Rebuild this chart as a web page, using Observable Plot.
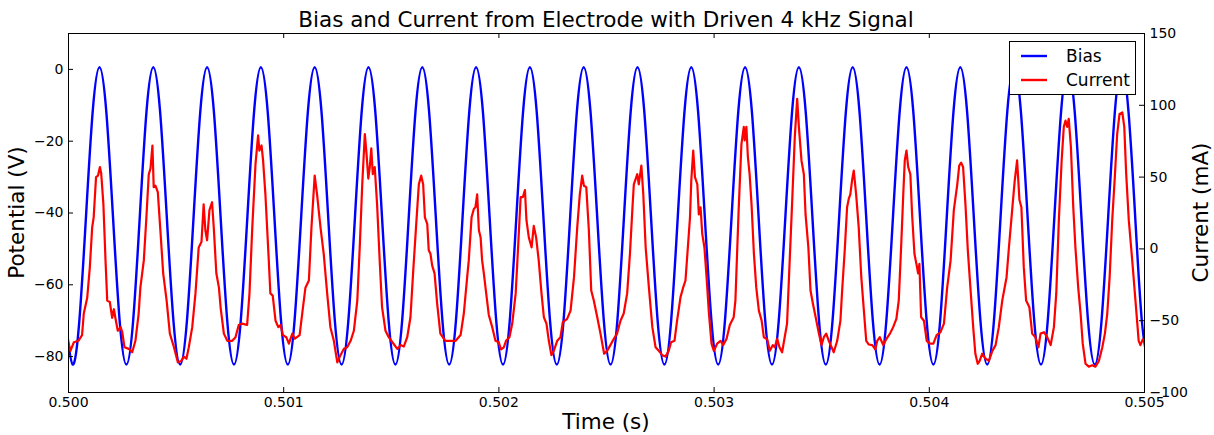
<!DOCTYPE html>
<html><head><meta charset="utf-8">
<script src="https://cdn.jsdelivr.net/npm/d3@7"></script>
<script src="https://cdn.jsdelivr.net/npm/@observablehq/plot@0.6"></script>
<style>
html,body{margin:0;padding:0;background:#fff;}
#chart{width:1214px;height:435px;}
</style>
</head><body><div id="chart"></div>
<script>
// ---------- data ----------
const chartTitle = "Bias and Current from Electrode with Driven 4 kHz Signal";
const xLabel = "Time (s)";
const yLeftLabel = "Potential (V)";
const yRightLabel = "Current (mA)";
const seriesNames = ["Bias", "Current"];

const timeOrigin = 0.5;           // s
const timeDomain = [0.500, 0.505]; // s
const potentialDomain = [-90, 10]; // V
const currentDomain = [-100, 150]; // mA

const xTicks = [0.500, 0.501, 0.502, 0.503, 0.504, 0.505];
const leftTicks = [-80, -60, -40, -20, 0];
const rightTicks = [-100, -50, 0, 50, 100, 150];

// Bias (V), sampled every 31.25 µs starting at -12.25 µs after 0.5 s
const biasStartUs = -12.25;
const biasStepUs = 31.25;
const biasV = [
  -70.1,-82.2,-70.1,-40.8,-11.5,0.6,-11.5,-40.8,
  -70.1,-82.2,-70.1,-40.8,-11.5,0.6,-11.5,-40.8,
  -70.1,-82.2,-70.1,-40.8,-11.5,0.6,-11.5,-40.8,
  -70.1,-82.2,-70.1,-40.8,-11.5,0.6,-11.5,-40.8,
  -70.1,-82.2,-70.1,-40.8,-11.5,0.6,-11.5,-40.8,
  -70.1,-82.2,-70.1,-40.8,-11.5,0.6,-11.5,-40.8,
  -70.1,-82.2,-70.1,-40.8,-11.5,0.6,-11.5,-40.8,
  -70.1,-82.2,-70.1,-40.8,-11.5,0.6,-11.5,-40.8,
  -70.1,-82.2,-70.1,-40.8,-11.5,0.6,-11.5,-40.8,
  -70.1,-82.2,-70.1,-40.8,-11.5,0.6,-11.5,-40.8,
  -70.1,-82.2,-70.1,-40.8,-11.5,0.6,-11.5,-40.8,
  -70.1,-82.2,-70.1,-40.8,-11.5,0.6,-11.5,-40.8,
  -70.1,-82.2,-70.1,-40.8,-11.5,0.6,-11.5,-40.8,
  -70.1,-82.2,-70.1,-40.8,-11.5,0.6,-11.5,-40.8,
  -70.1,-82.2,-70.1,-40.8,-11.5,0.6,-11.5,-40.8,
  -70.1,-82.2,-70.1,-40.8,-11.5,0.6,-11.5,-40.8,
  -70.1,-82.2,-70.1,-40.8,-11.5,0.6,-11.5,-40.8,
  -70.1,-82.2,-70.1,-40.8,-11.5,0.6,-11.5,-40.8,
  -70.1,-82.2,-70.1,-40.8,-11.5,0.6,-11.5,-40.8,
  -70.1,-82.2,-70.1,-40.8,-11.5,0.6,-11.5,-40.8,
  -70.1,-82.2
];

// Current: [µs after 0.5 s, mA]
const currentSamples = [
  [1,-66],[9,-71],[25,-65],[46,-64],[63,-60],[71,-45],[87,-34],[99,-13],[110,15],[117,22],
  [128,50],[137,51],[146,57],[152,52.5],[162,31.5],[172,-8],[180,-36],[192,-37],[203,-48],[211,-42],
  [219,-49],[229,-57],[242,-54.5],[250,-58],[260,-68.5],[280,-69.6],[296,-72],[311,-64],[326,-45],[334,-27],
  [350,-8],[362,22],[373,52],[381,56],[390,72],[396,43],[404,44],[415,39.5],[428,10.5],[440,-17],
  [456,-36],[471,-59],[490,-68.5],[508,-79],[524,-78],[536,-75],[548,-76.5],[559,-68.5],[575,-54.5],[590,-31],
  [605,1],[618,5],[628,31],[636,13],[644,6],[655,27],[667,32.5],[675,15],[687,-17],[699,-27],
  [707,-41],[722,-59],[738,-64],[761,-64],[776,-61.5],[791,-53],[807,-52],[830,-53],[841,-31],[854,15],
  [869,59],[881,79],[887,68.5],[897,72],[904,62],[915,38],[930,-6],[938,-31],[949,-32.5],[962,-50],
  [975,-54.5],[986,-53],[996,-60],[1012,-61.5],[1024,-66],[1040,-59],[1052,-62.5],[1074,-60],[1086,-45],[1101,-27],
  [1117,-22],[1129,15],[1144,51],[1155,38],[1171,15],[1186,-3.5],[1202,-31],[1217,-54.5],[1233,-64],[1249,-79],
  [1264,-74],[1280,-69.6],[1295,-68.5],[1311,-64],[1326,-57],[1342,-36],[1354,3.5],[1365,45],[1377,80],[1385,66],
  [1393,49],[1400,57],[1407,70],[1414,52],[1423,57],[1434,31],[1446,-8],[1457,-40.5],[1473,-57],[1488,-61.5],
  [1505,-65],[1528,-69.6],[1543,-67],[1558,-68],[1574,-61.5],[1589,-47.6],[1602,-15],[1617,20],[1628,45],[1639,51],
  [1648,45],[1656,22],[1667,17.5],[1674,-1],[1682,-3.4],[1690,-11.6],[1701,-17],[1713,-38],[1728,-59],[1751,-64],
  [1775,-64],[1799,-64],[1822,-60],[1837,-45],[1853,-19],[1860,-8],[1873,22],[1884,28],[1891,29],[1899,38],
  [1907,13],[1915,8],[1922,-8],[1930,-17],[1941,-31],[1953,-46],[1969,-54.5],[1984,-64],[1999,-65],[2010,-70],
  [2023,-68.5],[2033,-64],[2049,-61.5],[2062,-52],[2078,-31],[2090,3.5],[2101,36],[2111,36],[2121,41],[2128,20],
  [2139,8],[2152,1],[2162,16],[2173,8],[2185,-8],[2198,-31],[2209,-47.6],[2221,-52],[2232,-64],[2244,-74],
  [2255,-71],[2271,-64],[2286,-61.5],[2297,-51],[2317,-48.7],[2333,-43],[2349,-19.7],[2364,15],[2376,38],[2387,51],
  [2395,44],[2406,43],[2418,13],[2429,-29],[2441,-36],[2457,-47.6],[2472,-59],[2489,-73],[2503,-71],[2518,-67],
  [2534,-62.6],[2549,-59],[2565,-50],[2580,-45],[2596,-31],[2609,-3.4],[2620,27],[2627,45],[2643,52],[2650,45],
  [2662,58],[2671,38],[2682,1],[2697,-27],[2713,-54.5],[2728,-68.5],[2743,-71],[2759,-74],[2774,-75],[2789,-71],
  [2800,-65],[2816,-64],[2828,-50],[2844,-33.6],[2856,-27],[2867,-22],[2878,1],[2888,22],[2894,47.6],[2903,68.5],
  [2911,50],[2922,45],[2929,24],[2937,29],[2945,10.5],[2955,1],[2965,-19.7],[2976,-45],[2988,-66],[2999,-71],
  [3014,-66],[3030,-64],[3042,-67],[3058,-62.6],[3073,-53],[3091,-47.6],[3099,-36],[3114,27],[3127,73],[3138,85],
  [3142,75.5],[3150,85],[3157,64],[3165,52],[3174,31],[3185,-3.4],[3196,-27],[3208,-43],[3221,-50],[3231,-61.5],
  [3247,-63],[3259,-71],[3273,-67],[3282,-68.5],[3293,-62.6],[3304,-68.5],[3316,-72],[3328,-61.5],[3339,-52],[3350,-12.7],
  [3363,33.7],[3375,78],[3386,104.5],[3394,85],[3406,61.6],[3417,52],[3425,24],[3438,1],[3448,-29],[3459,-38],
  [3472,-47.6],[3487,-59],[3499,-67],[3510,-61.5],[3521,-59],[3533,-64],[3546,-68.5],[3556,-72],[3572,-64],[3587,-50],
  [3595,-29],[3607,-1],[3618,29],[3626,35],[3633,38],[3641,47.6],[3649,54.6],[3660,38],[3672,15],[3684,-19.7],
  [3696,-43],[3707,-64],[3719,-66.6],[3735,-67],[3749,-70],[3758,-64],[3770,-61.5],[3786,-67],[3801,-62.6],[3817,-59],
  [3832,-54.5],[3847,-48.7],[3858,-36],[3869,1],[3879,38],[3886,61.6],[3894,68.5],[3902,57],[3912,52],[3920,24],
  [3931,-3.4],[3940,-10.4],[3948,-17],[3954,-10.4],[3962,-47.6],[3975,-50],[3988,-64],[4003,-66],[4019,-66],[4034,-60],
  [4052,-58],[4068,-52],[4083,-27],[4099,-8],[4114,27],[4130,45],[4139,58],[4148,60],[4157,57],[4168,31],
  [4179,-1],[4191,-27],[4204,-54.5],[4214,-73],[4225,-80],[4234,-78],[4246,-73],[4262,-76.5],[4277,-78],[4293,-71],
  [4308,-67],[4323,-54.5],[4339,-36],[4359,-19.7],[4370,1],[4385,27],[4397,47.6],[4408,61.6],[4419,34],[4428,29],
  [4439,-12.7],[4450,-36],[4465,-40.6],[4478,-59],[4493,-61.5],[4507,-68.5],[4517,-59],[4533,-58],[4548,-61.5],[4564,-67],
  [4579,-54.5],[4590,-31],[4602,20],[4615,61.6],[4625,85],[4633,89.4],[4641,85],[4648,90.6],[4658,71],[4669,29],
  [4679,1],[4692,-27],[4703,-45],[4713,-66],[4726,-80],[4741,-82],[4757,-81],[4772,-82],[4788,-78],[4804,-68.5],
  [4816,-59],[4827,-45],[4838,-19.7],[4850,20],[4862,50],[4873,80],[4884,94],[4897,95],[4906,85],[4915,52],
  [4927,20],[4943,-8],[4958,-36],[4973,-64],[4981,-67],[4992,-63],[5000,-65]
];

// ---------- build ----------
const W = 1214, H = 435;
const mL = 68, mR = 70, mT = 33, mB = 43;
const PW = W - mL - mR, PH = H - mT - mB;
const TICK = 5;

// map current (mA) onto the potential axis (twin axis)
const cur2pot = d3.scaleLinear().domain(currentDomain).range(potentialDomain);
const fmtMinus = v => (v < 0 ? "\u2212" + Math.abs(v) : String(v));

const biasData = biasV.map((v, i) => ({t: timeOrigin + (biasStartUs + i * biasStepUs) * 1e-6, v}));
const currentData = currentSamples.map(([us, mA]) => ({t: timeOrigin + us * 1e-6, v: cur2pot(mA)}));
const rightPos = rightTicks.map(d => cur2pot(d));

const plot = Plot.plot({
  width: W, height: H,
  marginLeft: mL, marginRight: mR, marginTop: mT, marginBottom: mB,
  style: {fontFamily: "DejaVu Sans", fontSize: "14px", background: "white", color: "black", overflow: "visible"},
  x: {domain: timeDomain, axis: null},
  y: {domain: potentialDomain, axis: null},
  marks: [
    Plot.line(biasData, {x: "t", y: "v", stroke: "#0000ff", strokeWidth: 2.4, curve: "natural", clip: true}),
    Plot.line(currentData, {x: "t", y: "v", stroke: "#ff0000", strokeWidth: 2.2, clip: true}),
    Plot.frame({stroke: "black", strokeWidth: 1}),
    // ticks (inward)
    Plot.tickY(leftTicks, {y: d => d, stroke: "black", insetRight: PW - TICK}),
    Plot.tickY(rightPos, {y: d => d, stroke: "black", insetLeft: PW - TICK}),
    Plot.tickX(xTicks, {x: d => d, stroke: "black", insetTop: PH - TICK}),
    Plot.tickX(xTicks, {x: d => d, stroke: "black", insetBottom: PH - TICK}),
    // tick labels
    Plot.axisY(leftTicks, {anchor: "left", tickSize: 0, tickPadding: 5, tickFormat: fmtMinus, label: null, fontSize: 14}),
    Plot.axisY(rightPos, {anchor: "right", tickSize: 0, tickPadding: 5,
      tickFormat: v => fmtMinus(Math.round(cur2pot.invert(v))), label: null, fontSize: 14}),
    Plot.axisX(xTicks, {anchor: "bottom", tickSize: 0, tickPadding: 5, tickFormat: d3.format(".3f"), label: null, fontSize: 14})
  ]
});

const svg = d3.select(plot);
const big = 21.5;
svg.append("text").attr("x", (mL + W - mR) / 2).attr("y", 27).attr("text-anchor", "middle")
  .attr("font-size", big).attr("fill", "black").text(chartTitle);
svg.append("text").attr("x", (mL + W - mR) / 2).attr("y", 429).attr("text-anchor", "middle")
  .attr("font-size", big).attr("fill", "black").text(xLabel);
svg.append("text").attr("transform", `translate(24,${mT + PH / 2}) rotate(-90)`).attr("text-anchor", "middle")
  .attr("font-size", big).attr("fill", "black").text(yLeftLabel);
svg.append("text").attr("transform", `translate(1208,${mT + PH / 2}) rotate(-90)`).attr("text-anchor", "middle")
  .attr("font-size", big).attr("fill", "black").text(yRightLabel);

// legend
const lg = svg.append("g");
lg.append("rect").attr("x", 1009.5).attr("y", 41.5).attr("width", 126).attr("height", 53)
  .attr("fill", "white").attr("stroke", "black").attr("stroke-width", 1);
const lcolors = ["#0000ff", "#ff0000"];
seriesNames.forEach((name, i) => {
  const yy = 56 + i * 24;
  lg.append("line").attr("x1", 1021).attr("x2", 1047).attr("y1", yy).attr("y2", yy)
    .attr("stroke", lcolors[i]).attr("stroke-width", 2.4);
  lg.append("text").attr("x", 1066).attr("y", yy + 6).attr("text-anchor", "start")
    .attr("font-size", 17).attr("fill", "black").text(name);
});

document.getElementById("chart").appendChild(plot);
</script>
</body></html>
